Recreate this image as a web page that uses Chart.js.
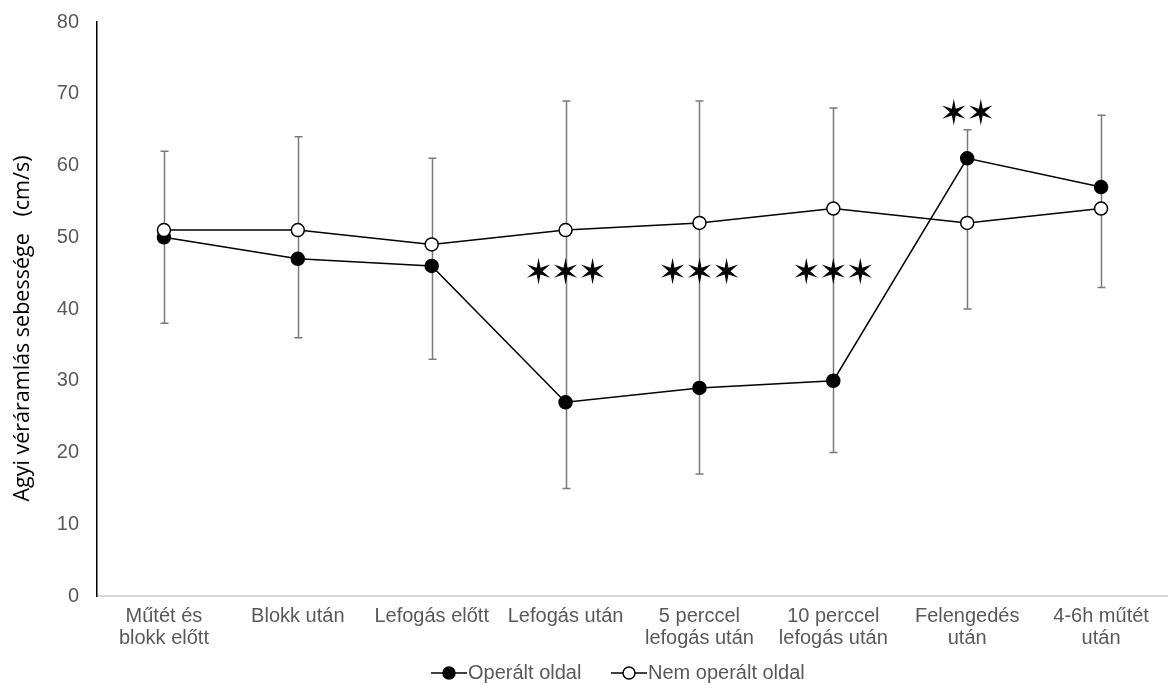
<!DOCTYPE html>
<html>
<head>
<meta charset="utf-8">
<script src="https://cdn.jsdelivr.net/npm/chart.js@4/dist/chart.umd.min.js"></script>
<style>
  html, body { margin: 0; padding: 0; background: #fff; }
  #wrap { width: 1168px; height: 691px; position: relative; }
</style>
</head>
<body>
<div id="wrap"><canvas id="c" width="1168" height="691"></canvas></div>
<script>
// Measurement points
const categories = [
  ['Műtét és', 'blokk előtt'],
  'Blokk után',
  'Lefogás előtt',
  'Lefogás után',
  ['5 perccel', 'lefogás után'],
  ['10 perccel', 'lefogás után'],
  ['Felengedés', 'után'],
  ['4-6h műtét', 'után']
];

// Mean flow velocity (cm/s)
const operaltOldal = [50, 47, 46, 27, 29, 30, 61, 57];
const nemOperaltOldal = [51, 51, 49, 51, 52, 54, 52, 54];

// Whisker extents at each time point
const whiskerLow = [38, 36, 33, 15, 17, 20, 40, 43];
const whiskerHigh = [62, 64, 61, 69, 69, 68, 65, 67];

// Significance markers
const starText = ['', '', '', '✶✶✶', '✶✶✶', '✶✶✶', '✶✶', ''];
const starLevel = [null, null, null, 44.9, 44.9, 44.9, 67.0, null];

const yTicks = [0, 10, 20, 30, 40, 50, 60, 70, 80];

const FONT = "'Liberation Sans', Arial, sans-serif";
const GRAY = '#595959';

const errorBars = {
  id: 'errorBars',
  beforeDatasetsDraw(chart) {
    const { ctx, scales: { x, y } } = chart;
    ctx.save();
    ctx.strokeStyle = '#7a7a7a';
    ctx.lineWidth = 1.5;
    whiskerLow.forEach((lo, i) => {
      const px = Math.round(x.getPixelForValue(i)) + 0.5;
      const y1 = y.getPixelForValue(lo);
      const y2 = y.getPixelForValue(whiskerHigh[i]);
      ctx.beginPath();
      ctx.moveTo(px, y1); ctx.lineTo(px, y2);
      ctx.moveTo(px - 4, y1); ctx.lineTo(px + 4, y1);
      ctx.moveTo(px - 4, y2); ctx.lineTo(px + 4, y2);
      ctx.stroke();
    });
    ctx.restore();
  }
};

const stars = {
  id: 'stars',
  afterDatasetsDraw(chart) {
    const { ctx, scales: { x, y } } = chart;
    ctx.save();
    ctx.fillStyle = '#000';
    ctx.strokeStyle = '#000';
    ctx.lineWidth = 1.2;
    ctx.font = "27px 'DejaVu Sans', sans-serif";
    ctx.textAlign = 'center';
    ctx.textBaseline = 'middle';
    starText.forEach((t, i) => {
      if (!t) return;
      const cx = x.getPixelForValue(i);
      const cy = y.getPixelForValue(starLevel[i]);
      const chars = [...t];
      const gap = 27;
      const start = cx - gap * (chars.length - 1) / 2;
      chars.forEach((ch, k) => {
        ctx.fillText(ch, start + k * gap, cy);
        ctx.strokeText(ch, start + k * gap, cy);
      });
    });
    ctx.restore();
  }
};

const lineLegend = {
  id: 'lineLegend',
  afterDraw(chart) {
    const { ctx } = chart;
    const yMid = 673;
    const items = [
      { ds: chart.data.datasets[0], x0: 431 },
      { ds: chart.data.datasets[1], x0: 611 }
    ];
    ctx.save();
    items.forEach(({ ds, x0 }) => {
      ctx.strokeStyle = '#000';
      ctx.lineWidth = 1.5;
      ctx.beginPath();
      ctx.moveTo(x0, yMid); ctx.lineTo(x0 + 36, yMid);
      ctx.stroke();
      ctx.beginPath();
      ctx.arc(x0 + 18, yMid, 6, 0, Math.PI * 2);
      ctx.fillStyle = ds.pointBackgroundColor;
      ctx.fill();
      ctx.stroke();
      ctx.fillStyle = GRAY;
      ctx.font = '20px ' + FONT;
      ctx.textAlign = 'left';
      ctx.textBaseline = 'middle';
      ctx.fillText(ds.label, x0 + 37, yMid);
    });
    ctx.restore();
  }
};

new Chart(document.getElementById('c'), {
  type: 'line',
  data: {
    labels: categories,
    datasets: [
      {
        label: 'Operált oldal',
        data: operaltOldal,
        borderColor: '#000',
        borderWidth: 1.5,
        pointRadius: 6.5,
        pointBorderWidth: 1.5,
        pointBackgroundColor: '#000',
        pointBorderColor: '#000',
        order: 1
      },
      {
        label: 'Nem operált oldal',
        data: nemOperaltOldal,
        borderColor: '#000',
        borderWidth: 1.5,
        pointRadius: 6.5,
        pointBorderWidth: 1.5,
        pointBackgroundColor: '#fff',
        pointBorderColor: '#000',
        order: 0
      }
    ]
  },
  options: {
    responsive: false,
    animation: false,
    layout: { autoPadding: false, padding: { top: 22, right: 0, bottom: 33, left: 0 } },
    plugins: {
      legend: { display: false },
      tooltip: { enabled: false }
    },
    scales: {
      x: {
        offset: true,
        grid: { display: false, drawTicks: false },
        border: { display: true, color: '#d9d9d9', width: 2 },
        ticks: {
          color: GRAY,
          font: { family: FONT, size: 20, lineHeight: 1.1 },
          padding: 9,
          maxRotation: 0,
          autoSkip: false
        },
        afterFit(scale) { scale.height = 62; }
      },
      y: {
        min: 0,
        max: 80,
        afterBuildTicks(scale) { scale.ticks = yTicks.map(v => ({ value: v })); },
        grid: { display: false, drawTicks: true, tickLength: 16 },
        border: { display: true, color: '#000', width: 1.5 },
        ticks: {
          color: GRAY,
          font: { family: FONT, size: 20 },
          padding: 2
        },
        title: {
          display: true,
          text: 'Agyi véráramlás sebessége   (cm/s)       ',
          color: '#000',
          font: { family: "'Liberation Sans Narrow', 'Open Sans', sans-serif", size: 21.5 },
          padding: { top: 10, bottom: 0 }
        },
        afterFit(scale) { scale.width = 97; }
      }
    }
  },
  plugins: [errorBars, stars, lineLegend]
});
</script>
</body>
</html>
